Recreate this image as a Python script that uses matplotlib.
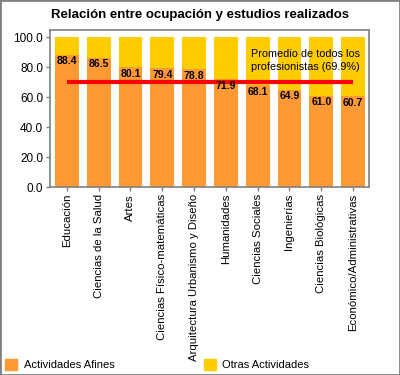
import matplotlib
matplotlib.use("Agg")
import matplotlib.pyplot as plt
from matplotlib.patches import Patch, Rectangle

plt.rcParams['font.family'] = ['Liberation Sans', 'DejaVu Sans']

carreras = ["Educación", "Ciencias de la Salud", "Artes", "Ciencias Físico-matemáticas",
            "Arquitectura Urbanismo y Diseño", "Humanidades", "Ciencias Sociales",
            "Ingenierías", "Ciencias Biológicas", "Económico/Administrativas"]
afines = [88.4, 86.5, 80.1, 79.4, 78.8, 71.9, 68.1, 64.9, 61.0, 60.7]
promedio = 69.9

otras = [100 - a for a in afines]
naranja = "#FF9933"
amarillo = "#FFCC00"
gris = "#808080"

fig = plt.figure(figsize=(4, 3.75), dpi=100)
ax = fig.add_axes([0.125, 0.5013, 0.7975, 0.4187])

x = list(range(len(carreras)))
ax.bar(x, afines, width=0.75, color=naranja)
ax.bar(x, otras, bottom=afines, width=0.75, color=amarillo)
for i, v in enumerate(afines):
    ax.annotate(f"{v:.1f}", (i, v), xytext=(0, -1), textcoords="offset points",
                ha="center", va="top", fontsize=7.5, fontweight="bold")

ax.plot([x[0], x[-1]], [promedio, promedio], color="red", lw=3, solid_capstyle="butt")
ax.text(5.8, 84.5, f"Promedio de todos los\nprofesionistas ({promedio}%)",
        fontsize=7.8, va="center", ha="left", linespacing=1.35)

ax.set_xlim(-0.53, 9.5)
ax.set_ylim(0, 105)
ax.set_yticks([0, 20, 40, 60, 80, 100])
ax.set_yticklabels([f"{t:.1f}" for t in [0, 20, 40, 60, 80, 100]], fontsize=8.5)
ax.set_xticks(x)
ax.set_xticklabels(carreras, rotation=90, fontsize=8.2)
for s in ax.spines.values():
    s.set_color(gris)
    s.set_linewidth(1.2)
ax.tick_params(colors=gris, labelcolor="black", length=3, width=1, pad=2)

fig.suptitle("Relación entre ocupación y estudios realizados", y=0.975,
             fontsize=9.5, fontweight="bold")

handles = [Patch(color=naranja, label="Actividades Afines"),
           Patch(color=amarillo, label="Otras Actividades")]
fig.legend(handles=handles, loc="lower left", bbox_to_anchor=(0.0, 0.0), ncol=2,
           frameon=False, fontsize=8, handlelength=1.1, handleheight=1.1,
           handletextpad=0.6, columnspacing=8.0, borderaxespad=0.05)

fig.patches.append(Rectangle((0, 0), 1, 1, transform=fig.transFigure, fill=False,
                             edgecolor=gris, lw=2))

fig.savefig("out.png", dpi=100)
